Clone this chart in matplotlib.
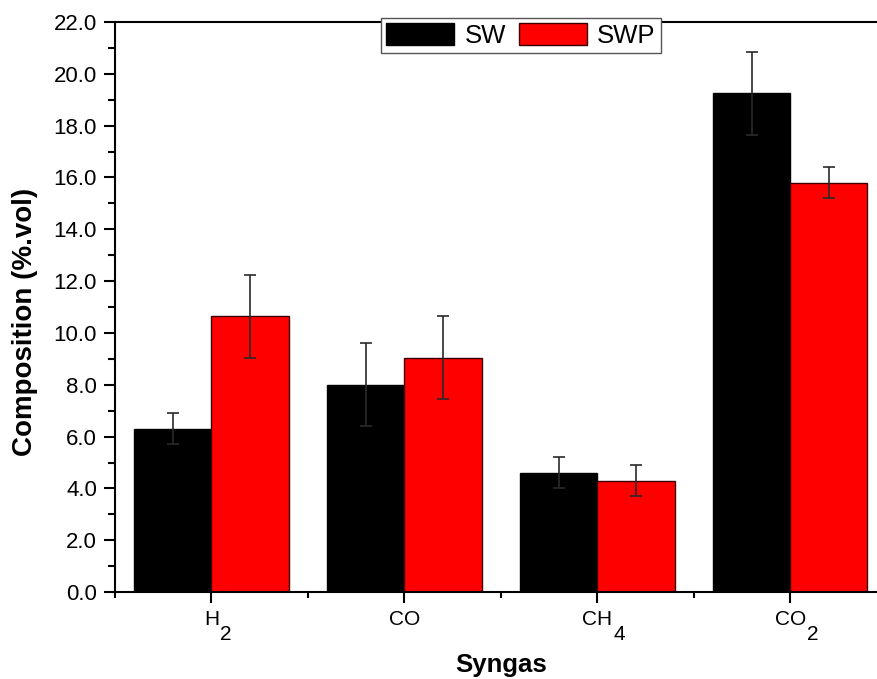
import numpy as np
import matplotlib.pyplot as plt
from matplotlib.ticker import MultipleLocator

plt.rcParams['font.family'] = ['Liberation Sans', 'DejaVu Sans']

# data
gases = ['H', 'CO', 'CH', 'CO']
subs = ['2', '', '4', '2']
sw = [6.3, 8.0, 4.6, 19.25]
sw_err = [0.6, 1.6, 0.6, 1.6]
swp = [10.65, 9.05, 4.3, 15.8]
swp_err = [1.6, 1.6, 0.6, 0.6]

fig = plt.figure(figsize=(8.78, 6.79), dpi=100)
# right edge of the axes sits just past the image border, like the source crop
ax = fig.add_axes([0.131, 0.128, 0.879, 0.8396])

x = np.arange(1, len(gases) + 1)
w = 0.4
err_kw = dict(ecolor='#2a2a2a', elinewidth=1.2, capsize=4, capthick=1.2)
ax.bar(x - w / 2, sw, w, yerr=sw_err, color='black', edgecolor='black',
       linewidth=1, label='SW', error_kw=err_kw)
ax.bar(x + w / 2, swp, w, yerr=swp_err, color='#ff0000', edgecolor='#3a0000',
       linewidth=1, label='SWP', error_kw=err_kw)

ax.set_xlim(0.5, 4.5)
ax.set_ylim(0, 22)
ax.set_xticks(x)
ax.set_xticklabels(gases, fontsize=15)
ax.xaxis.set_minor_locator(MultipleLocator(0.5))
ax.yaxis.set_major_locator(MultipleLocator(2))
ax.yaxis.set_minor_locator(MultipleLocator(1))
ax.set_yticklabels([f'{v:.1f}' for v in ax.get_yticks()], fontsize=16)

ax.tick_params(which='major', direction='out', length=8, width=1.5)
ax.tick_params(which='minor', direction='out', length=5, width=1.5)
ax.tick_params(axis='x', which='minor', length=4)
ax.tick_params(axis='y', which='major', pad=5)
ax.tick_params(axis='x', which='major', pad=5)
for s in ax.spines.values():
    s.set_linewidth(1.5)
ax.spines['right'].set_visible(False)

# subscripts hang below-right of each tick label, full size as in the source
for lab, sub in zip(ax.get_xticklabels(), subs):
    if sub:
        ax.annotate(sub, xy=(1, 0), xycoords=lab, xytext=(1, 3),
                    textcoords='offset points', ha='left', va='top',
                    fontsize=15)

ax.set_xlabel('Syngas', fontsize=18.5, fontweight='bold', labelpad=17)
ax.set_ylabel('Composition (%.vol)', fontsize=20, fontweight='bold')
ax.yaxis.set_label_coords(-0.10, 0.474)

leg = ax.legend(loc='upper center', bbox_to_anchor=(0.526, 1.0065), ncol=2,
                fontsize=18.5, frameon=True, fancybox=False, framealpha=1,
                edgecolor='#555555', borderpad=0.2, handlelength=2.65,
                handleheight=0.9, handletextpad=0.4, columnspacing=0.5,
                borderaxespad=0)
leg.get_frame().set_linewidth(1)

fig.savefig('out.png', dpi=100)
